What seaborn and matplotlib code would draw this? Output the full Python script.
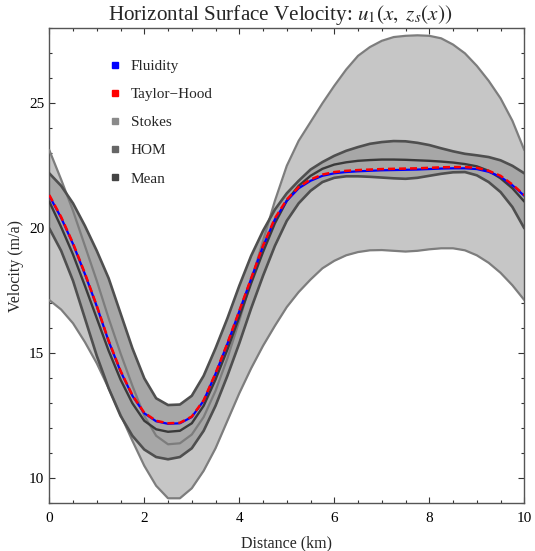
import matplotlib
matplotlib.use("Agg")
import matplotlib.pyplot as plt
import numpy as np
import pandas as pd
import seaborn as sns
from matplotlib.lines import Line2D
from matplotlib.ticker import MultipleLocator

sns.set_style("ticks")
plt.rcParams["font.family"] = ["Liberation Serif", "DejaVu Serif"]
plt.rcParams["mathtext.fontset"] = "stix"

# ---------------- data ----------------
distance = [0.0, 0.25, 0.5, 0.75, 1.0, 1.25, 1.5, 1.75, 2.0, 2.25,
            2.5, 2.75, 3.0, 3.25, 3.5, 3.75, 4.0, 4.25, 4.5, 4.75,
            5.0, 5.25, 5.5, 5.75, 6.0, 6.25, 6.5, 6.75, 7.0, 7.25,
            7.5, 7.75, 8.0, 8.25, 8.5, 8.75, 9.0, 9.25, 9.5, 9.75, 10.0]

stokes_hi = [23.13, 21.95, 20.7, 19.3, 17.9, 16.4, 15.0, 13.7, 12.5, 11.7,
             11.36, 11.4, 11.75, 12.45, 13.5, 14.8, 16.3, 17.9, 19.5, 21.1,
             22.5, 23.5, 24.25, 25.0, 25.7, 26.35, 26.9, 27.25, 27.5, 27.65,
             27.7, 27.72, 27.7, 27.6, 27.35, 27.0, 26.5, 25.9, 25.2, 24.3, 23.13]
stokes_lo = [17.13, 16.75, 16.2, 15.45, 14.6, 13.6, 12.55, 11.5, 10.5, 9.7,
             9.2, 9.2, 9.6, 10.3, 11.2, 12.3, 13.4, 14.4, 15.3, 16.1,
             16.85, 17.45, 17.95, 18.4, 18.7, 18.92, 19.05, 19.12, 19.13, 19.1,
             19.07, 19.1, 19.16, 19.2, 19.2, 19.12, 18.92, 18.62, 18.22, 17.72, 17.13]
hom_hi = [22.2, 21.7, 21.0, 20.1, 19.1, 18.0, 16.6, 15.2, 14.0, 13.2,
          12.93, 12.95, 13.3, 14.1, 15.2, 16.4, 17.7, 18.9, 19.9, 20.75,
          21.4, 21.9, 22.35, 22.65, 22.9, 23.1, 23.25, 23.38, 23.45, 23.49,
          23.48, 23.42, 23.33, 23.2, 23.08, 22.98, 22.92, 22.85, 22.72, 22.5, 22.2]
hom_lo = [20.0, 19.1, 17.9, 16.4, 14.9, 13.6, 12.5, 11.7, 11.15, 10.85,
          10.76, 10.85, 11.2, 11.9, 12.9, 14.1, 15.4, 16.8, 18.1, 19.3,
          20.3, 21.0, 21.5, 21.85, 22.02, 22.08, 22.08, 22.06, 22.03, 22.0,
          21.98, 22.02, 22.1, 22.18, 22.24, 22.25, 22.12, 21.85, 21.45, 20.85, 20.0]
mean_u = [21.07, 20.05, 18.95, 17.7, 16.4, 15.1, 13.95, 13.0, 12.3, 11.96,
          11.86, 11.9, 12.2, 12.9, 13.95, 15.15, 16.45, 17.8, 19.05, 20.2,
          21.1, 21.7, 22.1, 22.38, 22.55, 22.64, 22.7, 22.73, 22.75, 22.75,
          22.74, 22.72, 22.7, 22.67, 22.63, 22.57, 22.48, 22.3, 22.0, 21.6, 21.07]
fluidity = [21.3, 20.42, 19.37, 18.17, 16.88, 15.48, 14.28, 13.3, 12.6, 12.28,
            12.18, 12.2, 12.45, 13.1, 14.18, 15.38, 16.68, 17.98, 19.28, 20.36,
            21.1, 21.6, 21.9, 22.1, 22.2, 22.25, 22.28, 22.3, 22.32, 22.33,
            22.34, 22.35, 22.37, 22.39, 22.4, 22.4, 22.37, 22.26, 22.06, 21.72, 21.3]
taylor_hood = [21.33, 20.45, 19.4, 18.2, 16.9, 15.5, 14.3, 13.32, 12.62, 12.3,
               12.2, 12.22, 12.47, 13.12, 14.2, 15.4, 16.7, 18.0, 19.3, 20.4,
               21.15, 21.65, 21.95, 22.15, 22.25, 22.3, 22.33, 22.35, 22.37, 22.38,
               22.39, 22.4, 22.42, 22.44, 22.45, 22.45, 22.42, 22.3, 22.1, 21.75, 21.33]

df = pd.DataFrame({
    "x": distance, "stokes_hi": stokes_hi, "stokes_lo": stokes_lo,
    "hom_hi": hom_hi, "hom_lo": hom_lo, "mean": mean_u,
    "fluidity": fluidity, "taylor_hood": taylor_hood,
})

# ---------------- figure ----------------
fig = plt.figure(figsize=(5.35, 5.51), dpi=100)
ax = fig.add_axes([0.0921, 0.0866, 0.8879, 0.862])

# bands
ax.fill_between(df["x"], df["stokes_lo"], df["stokes_hi"], color="#c6c6c6", lw=0, zorder=1)
ax.fill_between(df["x"], df["hom_lo"], df["hom_hi"], color="#a7a7a7", lw=0, zorder=2)

# band edges
for col in ["stokes_hi", "stokes_lo"]:
    sns.lineplot(data=df, x="x", y=col, ax=ax, color="#7d7d7d", lw=1.6, zorder=3)
for col in ["hom_hi", "hom_lo"]:
    sns.lineplot(data=df, x="x", y=col, ax=ax, color="#4f4f4f", lw=1.9, zorder=4)
sns.lineplot(data=df, x="x", y="mean", ax=ax, color="#3a3a3a", lw=1.7, zorder=5)

# models
sns.lineplot(data=df, x="x", y="fluidity", ax=ax, color="#0000ff", lw=1.6, zorder=6)
sns.lineplot(data=df, x="x", y="taylor_hood", ax=ax, color="#ff0000", lw=1.8, zorder=7)
ax.lines[-1].set_dashes([2.8, 1.6])

ax.set_xlim(0, 10)
ax.set_ylim(9, 28)
ax.xaxis.set_major_locator(MultipleLocator(2))
ax.xaxis.set_minor_locator(MultipleLocator(0.5))
ax.yaxis.set_major_locator(MultipleLocator(5))
ax.yaxis.set_minor_locator(MultipleLocator(1))
ax.tick_params(which="both", direction="in", top=True, right=True,
               labelsize=11, colors="#333333", labelcolor="black")
ax.tick_params(which="major", length=4, width=0.8)
ax.tick_params(which="minor", length=2.5, width=0.8)
ax.tick_params(axis="x", which="major", pad=6.5)
for s in ax.spines.values():
    s.set_color("#555555")
    s.set_linewidth(1.0)

ax.set_xlabel("Distance (km)", fontsize=11.5, labelpad=7)
ax.set_ylabel("Velocity (m/a)", fontsize=11.5)
ax.set_title(r"Horizontal Surface Velocity: $u_1(x,\ z_s(x))$", fontsize=15.2,
             pad=6, x=0.487)

handles = [
    Line2D([], [], marker="s", ls="none", ms=4, color="#0000ff", label="Fluidity"),
    Line2D([], [], marker="s", ls="none", ms=4, color="#ff0000", label="Taylor\u2212Hood"),
    Line2D([], [], marker="s", ls="none", ms=4, color="#8a8a8a", label="Stokes"),
    Line2D([], [], marker="s", ls="none", ms=4, color="#666666", label="HOM"),
    Line2D([], [], marker="s", ls="none", ms=4, color="#444444", label="Mean"),
]
ax.legend(handles=handles, loc="upper left", bbox_to_anchor=(0.096, 0.964),
          frameon=False, fontsize=11, labelspacing=0.95, handlelength=0.8,
          handletextpad=0.65)

fig.savefig("out.png", dpi=100)
